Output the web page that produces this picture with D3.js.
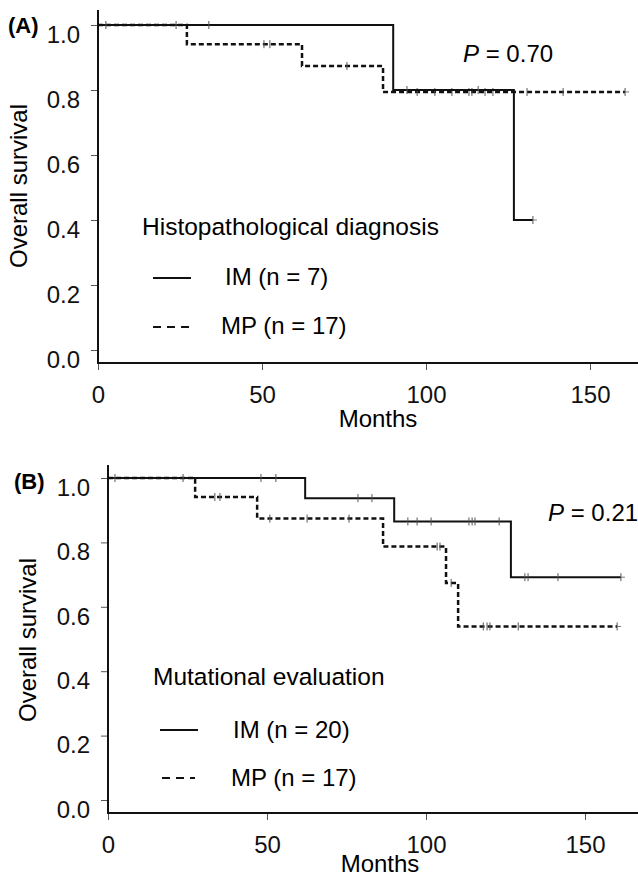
<!DOCTYPE html>
<html>
<head>
<meta charset="utf-8">
<script src="https://cdn.jsdelivr.net/npm/d3@7"></script>
<style>
  body { margin: 0; background: #fff; }
  svg { display: block; font-family: "Liberation Sans", Arial, sans-serif; }
</style>
</head>
<body>
<svg id="chart"></svg>
<script>
// panel A: histopathological diagnosis
const aImTimes = [0, 90, 126.8]
const aImSurv = [1, 0.8, 0.4]
const aImEnd = 132.6
const aImCensor = [2.4, 23.8, 33.8, 94.2, 115.9, 132.6]

const aMpTimes = [0, 27.1, 62.2, 86.9]
const aMpSurv = [1, 0.941, 0.874, 0.794]
const aMpEnd = 160.7
const aMpCensor = [50.6, 52.4, 75.9, 97.3, 102.7, 107.9, 113.1, 114, 118, 120.4, 130.8, 141.8, 160.7]

// panel B: mutational evaluation
const bImTimes = [0, 62, 90, 126.7]
const bImSurv = [1, 0.9375, 0.865, 0.692]
const bImEnd = 161.3
const bImCensor = [2.2, 23.6, 48.1, 52.8, 78.6, 83, 94.3, 97.2, 101.6, 113.5, 114.5, 115.4, 123, 131.1, 132.1, 141.5, 161.3]

const bMpTimes = [0, 27.4, 46.9, 86.5, 106.3, 110.1]
const bMpSurv = [1, 0.941, 0.874, 0.787, 0.674, 0.539]
const bMpEnd = 160.1
const bMpCensor = [33.6, 35.2, 50.9, 62.6, 75.8, 103.5, 104.4, 107.9, 118, 119.2, 120.1, 129, 160.1]

const xTicks = [0, 50, 100, 150]
const yTicks = [0, 0.2, 0.4, 0.6, 0.8, 1.0]

const width = 638
const height = 878
const fontSize = 24

const svg = d3.select('#chart')
  .attr('width', width)
  .attr('height', height)

drawPanel({
  tag: '(A)', tagPos: [8, 33],
  x0: 98, x150: 590, y0: 350, y1: 25, axisY: 363, axisTop: 10,
  title: 'Histopathological diagnosis', titlePos: [142, 235],
  imLabel: 'IM (n = 7)', mpLabel: 'MP (n = 17)',
  legend: { solid: [153, 191, 278], dashed: [153, 190, 327], imText: [225, 285], mpText: [221, 334] },
  pText: '0.70', pPos: [463, 62],
  yLabelPos: [27, 186], monthsPos: [378, 427],
  im: { times: aImTimes, surv: aImSurv, end: aImEnd, censor: aImCensor },
  mp: { times: aMpTimes, surv: aMpSurv, end: aMpEnd, censor: aMpCensor }
})

drawPanel({
  tag: '(B)', tagPos: [14, 489],
  x0: 108, x150: 585, y0: 800, y1: 478, axisY: 813, axisTop: 465,
  title: 'Mutational evaluation', titlePos: [153, 685],
  imLabel: 'IM (n = 20)', mpLabel: 'MP (n = 17)',
  legend: { solid: [160, 198, 730], dashed: [162, 195, 778], imText: [233, 738], mpText: [231, 786] },
  pText: '0.21', pPos: [548, 521],
  yLabelPos: [36, 640], monthsPos: [380, 872],
  im: { times: bImTimes, surv: bImSurv, end: bImEnd, censor: bImCensor },
  mp: { times: bMpTimes, surv: bMpSurv, end: bMpEnd, censor: bMpCensor }
})

function survAt(series, t) {
  let s = series.surv[0]
  series.times.forEach((tt, i) => { if (tt <= t) s = series.surv[i] })
  return s
}

function drawPanel(cfg) {
  let x = d3.scaleLinear().domain([0, 150]).range([cfg.x0, cfg.x150])
  let y = d3.scaleLinear().domain([0, 1]).range([cfg.y0, cfg.y1])
  let g = svg.append('g')

  // y axis ticks
  let yAxis = g.append('g')
    .attr('transform', `translate(${cfg.x0}, 0)`)
    .call(d3.axisLeft(y).tickValues(yTicks).tickFormat(d3.format('.1f')).tickSize(7).tickPadding(11))
  yAxis.select('.domain').remove()
  yAxis.selectAll('line').attr('stroke', '#555')
  yAxis.selectAll('text')
    .attr('dy', '0.72em')
    .attr('font-size', fontSize)
    .attr('font-family', null)
    .attr('fill', '#111')

  // x axis ticks
  let xAxis = g.append('g')
    .attr('transform', `translate(0, ${cfg.axisY})`)
    .call(d3.axisBottom(x).tickValues(xTicks).tickSize(7).tickPadding(16))
  xAxis.select('.domain').remove()
  xAxis.selectAll('line').attr('stroke', '#555')
  xAxis.selectAll('text')
    .attr('font-size', fontSize)
    .attr('font-family', null)
    .attr('fill', '#111')

  // frame lines
  g.append('line')
    .attr('x1', cfg.x0).attr('x2', cfg.x0)
    .attr('y1', cfg.axisTop).attr('y2', cfg.axisY + 1)
    .attr('stroke', '#111').attr('stroke-width', 2)
  g.append('line')
    .attr('x1', cfg.x0 - 1).attr('x2', width)
    .attr('y1', cfg.axisY).attr('y2', cfg.axisY)
    .attr('stroke', '#111').attr('stroke-width', 2)

  let line = d3.line()
    .x(d => x(d[0]))
    .y(d => y(d[1]))
    .curve(d3.curveStepAfter)

  let drawSeries = (series, dash, sw) => {
    let pts = series.times.map((t, i) => [t, series.surv[i]])
    pts.push([series.end, series.surv[series.surv.length - 1]])
    g.append('path')
      .attr('d', line(pts))
      .attr('fill', 'none')
      .attr('stroke', '#111')
      .attr('stroke-width', sw)
      .attr('stroke-dasharray', dash)

    g.selectAll(null)
      .data(series.censor)
      .enter()
      .append('line')
        .attr('x1', d => x(d)).attr('x2', d => x(d))
        .attr('y1', d => y(survAt(series, d)) - 4)
        .attr('y2', d => y(survAt(series, d)) + 4)
        .attr('stroke', '#555')
        .attr('stroke-width', 1)
    g.selectAll(null)
      .data(series.censor.filter(d => d === series.end))
      .enter()
      .append('line')
        .attr('x1', d => x(d)).attr('x2', d => x(d) + 4)
        .attr('y1', d => y(survAt(series, d)))
        .attr('y2', d => y(survAt(series, d)))
        .attr('stroke', '#777')
        .attr('stroke-width', 1)
  }

  drawSeries(cfg.mp, '5,3', 2.5)
  drawSeries(cfg.im, null, 2)

  // texts
  g.append('text')
    .attr('x', cfg.tagPos[0]).attr('y', cfg.tagPos[1])
    .attr('font-size', 22).attr('font-weight', 'bold')
    .text(cfg.tag)

  g.append('text')
    .attr('transform', `translate(${cfg.yLabelPos[0]}, ${cfg.yLabelPos[1]}) rotate(-90)`)
    .attr('text-anchor', 'middle')
    .attr('font-size', fontSize)
    .text('Overall survival')

  g.append('text')
    .attr('x', cfg.monthsPos[0]).attr('y', cfg.monthsPos[1])
    .attr('text-anchor', 'middle')
    .attr('font-size', fontSize)
    .text('Months')

  let p = g.append('text')
    .attr('x', cfg.pPos[0]).attr('y', cfg.pPos[1])
    .attr('font-size', fontSize)
  p.append('tspan').attr('font-style', 'italic').text('P')
  p.append('tspan').text(' = ' + cfg.pText)

  g.append('text')
    .attr('x', cfg.titlePos[0]).attr('y', cfg.titlePos[1])
    .attr('font-size', fontSize + 0.5)
    .text(cfg.title)

  let lg = cfg.legend
  g.append('line')
    .attr('x1', lg.solid[0]).attr('x2', lg.solid[1])
    .attr('y1', lg.solid[2]).attr('y2', lg.solid[2])
    .attr('stroke', '#111').attr('stroke-width', 2)
  g.append('line')
    .attr('x1', lg.dashed[0]).attr('x2', lg.dashed[1])
    .attr('y1', lg.dashed[2]).attr('y2', lg.dashed[2])
    .attr('stroke', '#111').attr('stroke-width', 2)
    .attr('stroke-dasharray', '8,6')
  g.append('text')
    .attr('x', lg.imText[0]).attr('y', lg.imText[1])
    .attr('font-size', fontSize)
    .text(cfg.imLabel)
  g.append('text')
    .attr('x', lg.mpText[0]).attr('y', lg.mpText[1])
    .attr('font-size', fontSize)
    .text(cfg.mpLabel)
}
</script>
</body>
</html>
